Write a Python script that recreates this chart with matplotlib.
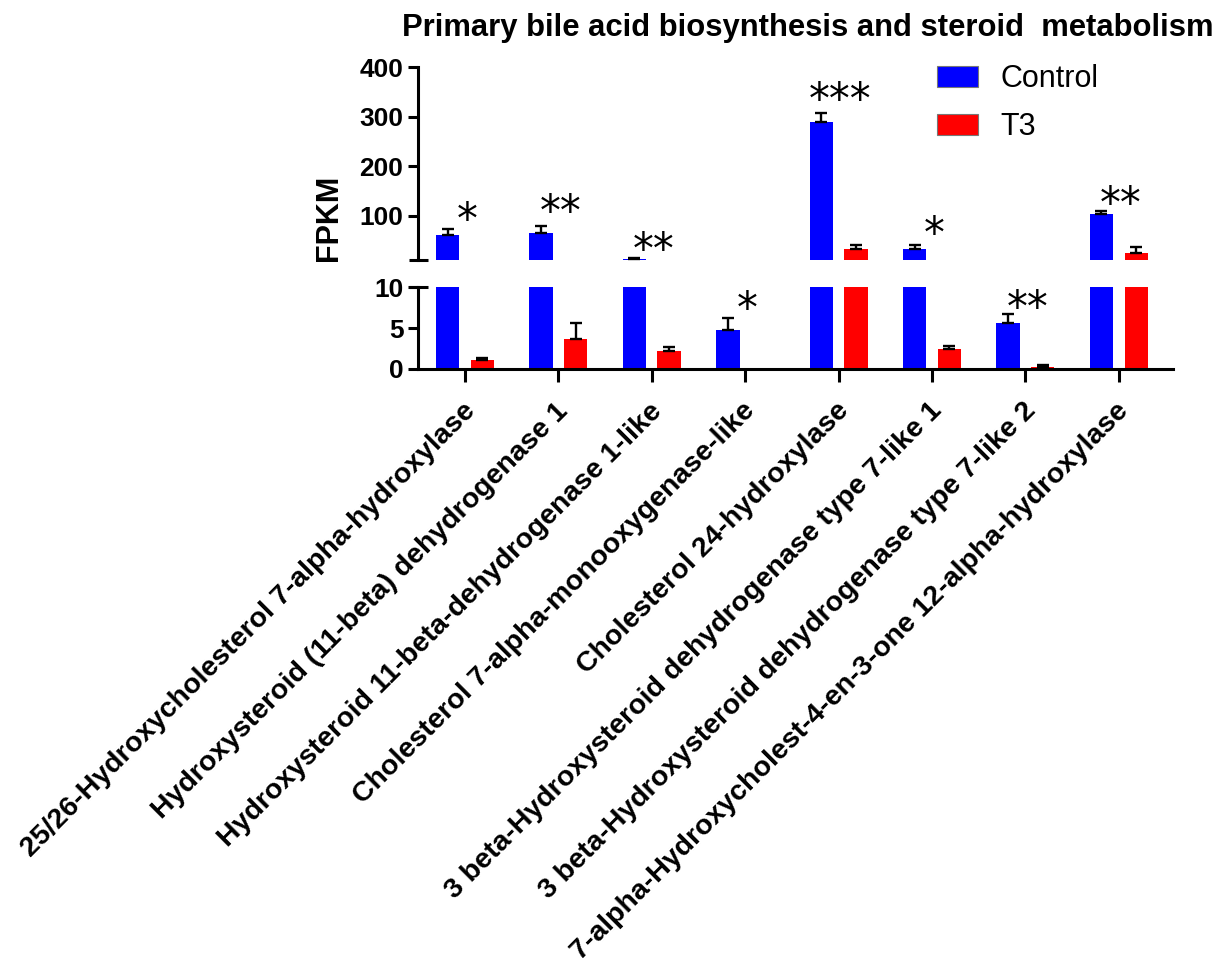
import matplotlib.pyplot as plt
import matplotlib.transforms as mtransforms
import numpy as np
from matplotlib.patches import Patch

plt.rcParams['font.family'] = ['Liberation Sans', 'DejaVu Sans']

genes = [
    "25/26-Hydroxycholesterol 7-alpha-hydroxylase",
    "Hydroxysteroid (11-beta) dehydrogenase 1",
    "Hydroxysteroid 11-beta-dehydrogenase 1-like",
    "Cholesterol 7-alpha-monooxygenase-like",
    "Cholesterol 24-hydroxylase",
    "3 beta-Hydroxysteroid dehydrogenase type 7-like 1",
    "3 beta-Hydroxysteroid dehydrogenase type 7-like 2",
    "7-alpha-Hydroxycholest-4-en-3-one 12-alpha-hydroxylase",
]
control = [60, 66, 12.5, 4.8, 290, 33, 5.6, 103]
control_err = [13, 14, 1.5, 1.4, 18, 8, 1.1, 7]
t3 = [1.1, 3.7, 2.2, 0.0, 33, 2.4, 0.2, 25]
t3_err = [0.3, 1.9, 0.45, 0.0, 7, 0.45, 0.25, 12]
stars = ['*', '**', '**', '*', '***', '*', '**', '**']
star_y = [90, 106, 29.5, 7.25, 332, 60, 7.35, 122.5]

BLUE = '#0000ff'
RED = '#ff0000'
LW = 2.2
BREAK = 10  # lower limit of the upper panel

fig = plt.figure(figsize=(12.28, 9.69), dpi=100)
W, H = 1228, 969


def px_axes(x0, y0, x1, y1):
    return fig.add_axes([x0 / W, 1 - y1 / H, (x1 - x0) / W, (y1 - y0) / H])


ax_top = px_axes(418, 67.3, 1173, 260.2)
ax_bot = px_axes(418, 287.3, 1173, 369)

x = np.arange(len(genes))
bw = 0.25
off = 0.186


def draw_group(ax, xs, vals, errs, color, floor):
    vals = np.asarray(vals, float)
    errs = np.asarray(errs, float)
    keep = vals > floor
    ax.bar(xs[keep], vals[keep], bw, color=color, zorder=2)
    has_err = keep & (errs > 0)
    ax.errorbar(xs[has_err], vals[has_err], yerr=[np.zeros(has_err.sum()), errs[has_err]],
                fmt='none', ecolor='black', elinewidth=1.7, capsize=4.5, capthick=1.7, zorder=3)


for ax, floor in ((ax_top, BREAK), (ax_bot, 0)):
    draw_group(ax, x - off, control, control_err, BLUE, floor)
    draw_group(ax, x + off, t3, t3_err, RED, floor)
    ax.set_xlim(-0.503, 7.58)
    for s in ('top', 'right'):
        ax.spines[s].set_visible(False)
    ax.spines['left'].set_linewidth(LW)
    ax.spines['bottom'].set_linewidth(LW)
    ax.tick_params(axis='y', length=7.5, width=LW, labelsize=19, pad=3)

ax_top.set_ylim(BREAK, 400)
ax_top.set_yticks([100, 200, 300, 400])
ax_top.set_yticklabels(['100', '200', '300', '400'], fontweight='bold')
ax_top.spines['bottom'].set_visible(False)
ax_top.set_xticks([])

ax_bot.set_ylim(0, BREAK)
ax_bot.set_yticks([0, 5, 10])
ax_bot.set_yticklabels(['0', '5', '10'], fontweight='bold')
ax_bot.set_xticks(x)
ax_bot.tick_params(axis='x', length=9, width=LW, direction='out', pad=5)
ax_bot.set_xticklabels(genes, rotation=45, ha='right', va='top', rotation_mode='anchor',
                       fontsize=20.5, fontweight='bold')
shift = mtransforms.ScaledTranslation(-3 / 100, -9.5 / 100, fig.dpi_scale_trans)
for lab in ax_bot.get_xticklabels():
    lab.set_transform(lab.get_transform() + shift)

# break marks across the y axis
bx = 9.5 / 755
ax_top.plot([-bx, bx], [0, 0], transform=ax_top.transAxes, color='black',
            lw=LW, clip_on=False, solid_capstyle='butt')
ax_bot.plot([-bx, bx], [1, 1], transform=ax_bot.transAxes, color='black',
            lw=LW, clip_on=False, solid_capstyle='butt')

# significance stars
for xi, s, sy in zip(x, stars, star_y):
    ax = ax_top if sy > BREAK else ax_bot
    ax.text(xi + 0.02, sy, s, ha='center', va='center', fontsize=30,
            family='DejaVu Sans', zorder=4)

fig.text(329 / W, 1 - 217.5 / H, 'FPKM', rotation=90, ha='center', va='center',
         fontsize=22, fontweight='bold')
fig.text(808 / W, 1 - 28 / H, 'Primary bile acid biosynthesis and steroid  metabolism',
         ha='center', va='center', fontsize=22.3, fontweight='bold')

handles = [Patch(facecolor=BLUE, edgecolor='#777777', lw=0.8),
           Patch(facecolor=RED, edgecolor='#777777', lw=0.8)]
fig.legend(handles, ['Control', 'T3'], loc='upper left', bbox_to_anchor=(937 / W, 1 - 64 / H),
           frameon=False, fontsize=22, handlelength=1.34, handleheight=0.69,
           labelspacing=0.6, handletextpad=0.75, borderpad=0, borderaxespad=0)

fig.savefig('out.png', dpi=100)
